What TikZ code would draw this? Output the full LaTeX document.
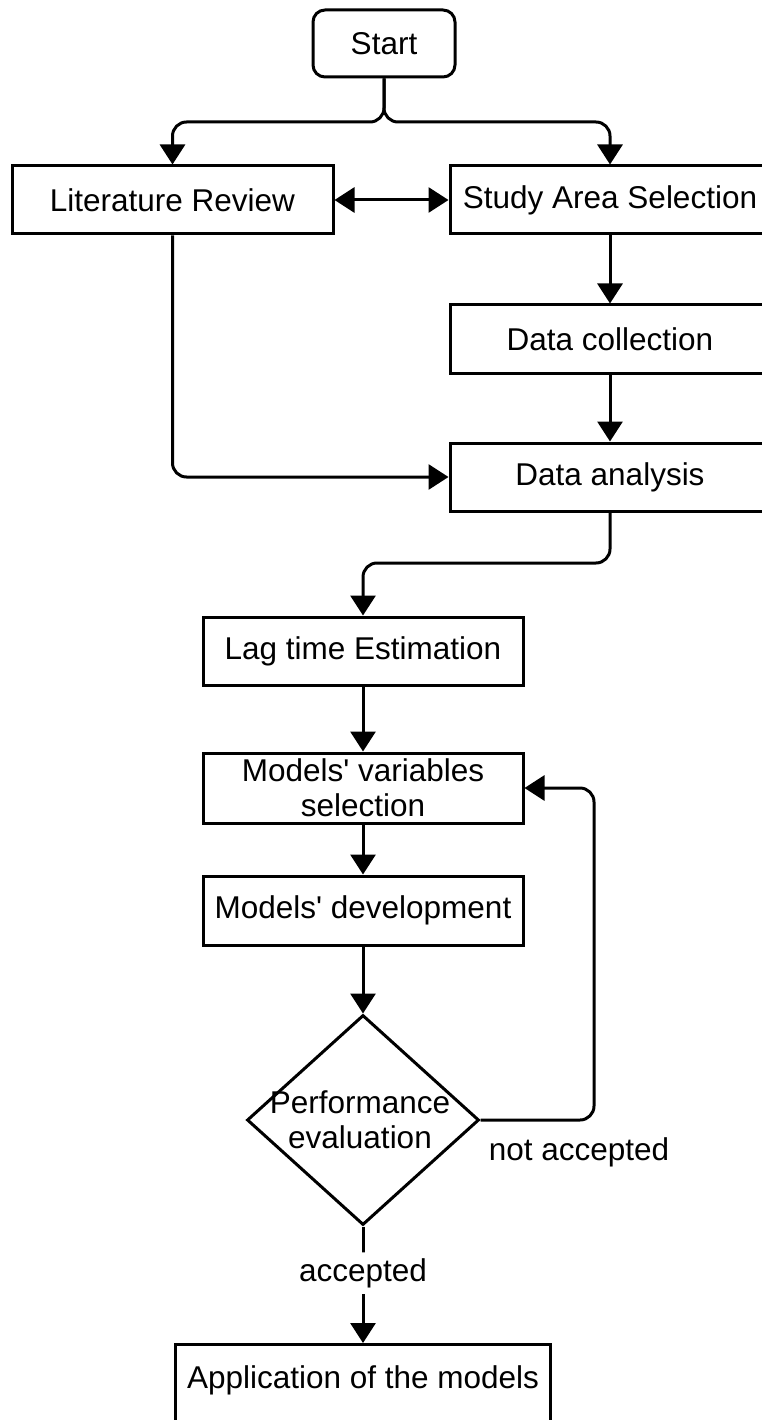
\documentclass[tikz,border=0pt]{standalone}
\usepackage{fontspec}
\setmainfont{Liberation Sans}
\usetikzlibrary{arrows.meta,shapes.geometric}

\begin{document}
\begin{tikzpicture}[x=1pt,y=-1pt,
  every node/.style={font=\fontsize{31.5}{35}\selectfont},
  box/.style={draw, line width=3pt, rectangle, inner sep=0pt, align=center,
    minimum width=320pt, minimum height=68pt},
  startbox/.style={draw, line width=3pt, rectangle, rounded corners=12pt,
    inner sep=0pt, minimum width=142pt, minimum height=67pt},
  decision/.style={draw, line width=3pt, diamond, inner sep=0pt,
    minimum width=232pt, minimum height=210pt},
  conn/.style={line width=3pt, rounded corners=14pt,
    -{Triangle[width=25pt,length=20pt]}},
  both/.style={line width=3pt,
    {Triangle[width=25pt,length=20pt]}-{Triangle[width=25pt,length=20pt]}},
  tag/.style={inner sep=0pt, align=center}
]
\useasboundingbox (0,0) rectangle (762,1420);
\fill[white] (0,0) rectangle (762,1420);
\clip (0,0) rectangle (762,1420);

% process boxes
\node[startbox] (start) at (384,43.5) {Start};
\node[box, minimum width=321pt] (lit) at (172.5,200) {Literature Review};
\node[box] (study) at (610,200) {Study Area Selection};
\node[box] (coll) at (610,339) {Data collection};
\node[box] (anal) at (610,477) {Data analysis};
\node[box] (lag) at (363,651) {Lag time Estimation};
\node[box, minimum height=70pt] (var) at (363,788)
  {Models\textquotesingle\ variables\\selection};
\node[box, minimum height=69pt] (dev) at (363,910.5)
  {Models\textquotesingle\ development};
\node[decision] (perf) at (363,1120) {};
\node[tag] (perftext) at (360,1120) {Performance\\evaluation};
\node[box, minimum width=375pt, minimum height=84pt, anchor=north] (app)
  at (363,1343) {};
\node[tag] (apptext) at (363,1380) {Application of the models};

% fork and links at the top
\coordinate (fork) at (384,122);
\draw[conn] (start.south) -- (fork) -| (lit.north);
\draw[conn] (start.south) -- (fork) -| (study.north);
\draw[both] (lit.east) -- (study.west);
\draw[conn] (study.south) -- (coll.north);
\draw[conn] (coll.south) -- (anal.north);
\draw[conn] (lit.south) |- (anal.west);

% analysis to modelling chain
\coordinate (bend) at (610,563);
\draw[conn] (anal.south) -- (bend) -| (lag.north);
\draw[conn] (lag.south) -- (var.north);
\draw[conn] (var.south) -- (dev.north);
\draw[conn] (dev.south) -- (perf.north);

% feedback loop
\coordinate (loop) at (594,788);
\draw[conn] (perf.east) -| (loop) -- (var.east);
\node[tag] (nacc) at (579,1152) {not accepted};

% accepted branch
\draw[conn] (perf.south) -- node[pos=0.4, fill=white, inner xsep=2pt, inner ysep=6pt] (acc) {accepted} (app.north);
\end{tikzpicture}
\end{document}
